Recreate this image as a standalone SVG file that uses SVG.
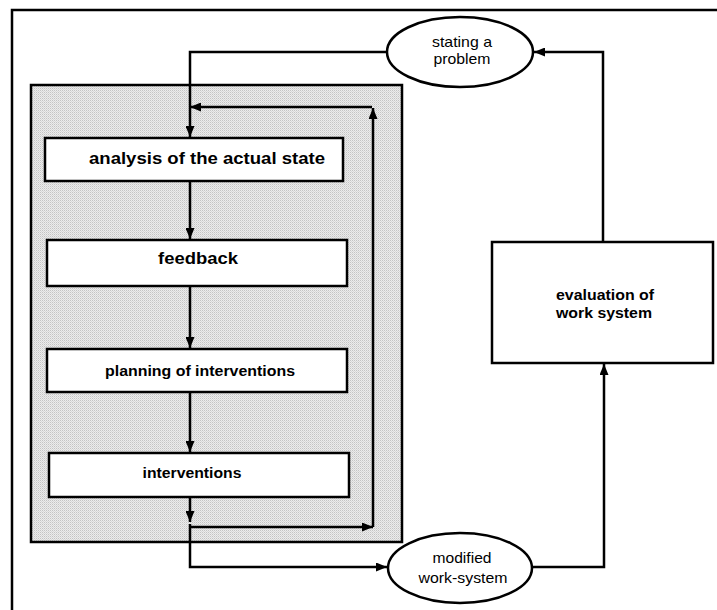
<svg xmlns="http://www.w3.org/2000/svg" width="717" height="610" viewBox="0 0 717 610">
  <defs>
    <pattern id="dots" width="2" height="2" patternUnits="userSpaceOnUse">
      <rect width="2" height="2" fill="#ececec"/>
      <rect width="1" height="1" fill="#c4c4c4"/>
      <rect x="1" y="1" width="1" height="1" fill="#d8d8d8"/>
    </pattern>
    <marker id="arrow" markerWidth="11" markerHeight="9" refX="11" refY="4.5" orient="auto" markerUnits="userSpaceOnUse">
      <path d="M0,0 L11,4.5 L0,9 z" fill="#000"/>
    </marker>
    <style>
      .box { fill: #fff; stroke: #000; stroke-width: 2.5; }
      .oval { fill: #fff; stroke: #000; stroke-width: 2.5; }
      .conn { fill: none; stroke: #000; stroke-width: 2.5; }
      .arr { marker-end: url(#arrow); }
      .bold { font-family: "Liberation Sans", Arial, sans-serif; font-weight: bold; fill: #000; text-anchor: middle; }
      .reg { font-family: "Liberation Sans", Arial, sans-serif; fill: #000; text-anchor: middle; font-size: 15px; }
    </style>
  </defs>

  <!-- outer frame (open on right and bottom) -->
  <rect x="12" y="10" width="720" height="620" fill="none" stroke="#000" stroke-width="2.5"/>

  <!-- shaded process area -->
  <rect id="process-area" x="31" y="85" width="371" height="457" fill="url(#dots)" stroke="#000" stroke-width="2.5"/>

  <g id="connectors">
    <path class="conn arr" d="M387,52 H190 V137"/>
    <path class="conn arr" d="M190,181 V239"/>
    <path class="conn arr" d="M190,286 V348"/>
    <path class="conn arr" d="M190,392 V452"/>
    <path class="conn arr" d="M190,497 V522"/>
    <path class="conn arr" d="M190,527 H373"/>
    <path class="conn arr" d="M373,527 V108"/>
    <path class="conn arr" d="M372,107 H190"/>
    <path class="conn arr" d="M190,524 V567 H387"/>
    <path class="conn arr" d="M533,567 H604 V364"/>
    <path class="conn arr" d="M603,242 V52 H534"/>
  </g>

  <g id="stating-problem">
    <ellipse class="oval" cx="460" cy="52" rx="73" ry="35"/>
    <text class="reg" x="462" y="47" textLength="60" lengthAdjust="spacingAndGlyphs">stating a</text>
    <text class="reg" x="462" y="64" textLength="57" lengthAdjust="spacingAndGlyphs">problem</text>
  </g>

  <g id="analysis">
    <rect class="box" x="45" y="138" width="298" height="43"/>
    <text class="bold" x="207" y="164" font-size="17" textLength="236" lengthAdjust="spacingAndGlyphs">analysis of the actual state</text>
  </g>

  <g id="feedback">
    <rect class="box" x="47" y="240" width="300" height="46"/>
    <text class="bold" x="198" y="264" font-size="17" textLength="80" lengthAdjust="spacingAndGlyphs">feedback</text>
  </g>

  <g id="planning">
    <rect class="box" x="47" y="349" width="300" height="43"/>
    <text class="bold" x="200" y="376" font-size="15" textLength="190" lengthAdjust="spacingAndGlyphs">planning of interventions</text>
  </g>

  <g id="interventions">
    <rect class="box" x="49" y="453" width="300" height="44"/>
    <text class="bold" x="192" y="478" font-size="15" textLength="99" lengthAdjust="spacingAndGlyphs">interventions</text>
  </g>

  <g id="modified-work-system">
    <ellipse class="oval" cx="460" cy="568" rx="72" ry="35"/>
    <text class="reg" x="462" y="563" textLength="59" lengthAdjust="spacingAndGlyphs">modified</text>
    <text class="reg" x="463" y="583" textLength="89" lengthAdjust="spacingAndGlyphs">work-system</text>
  </g>

  <g id="evaluation">
    <rect class="box" x="492" y="242" width="221" height="121"/>
    <text class="bold" x="605" y="300" font-size="15" textLength="98" lengthAdjust="spacingAndGlyphs">evaluation of</text>
    <text class="bold" x="604" y="318" font-size="15" textLength="96" lengthAdjust="spacingAndGlyphs">work system</text>
  </g>
</svg>
